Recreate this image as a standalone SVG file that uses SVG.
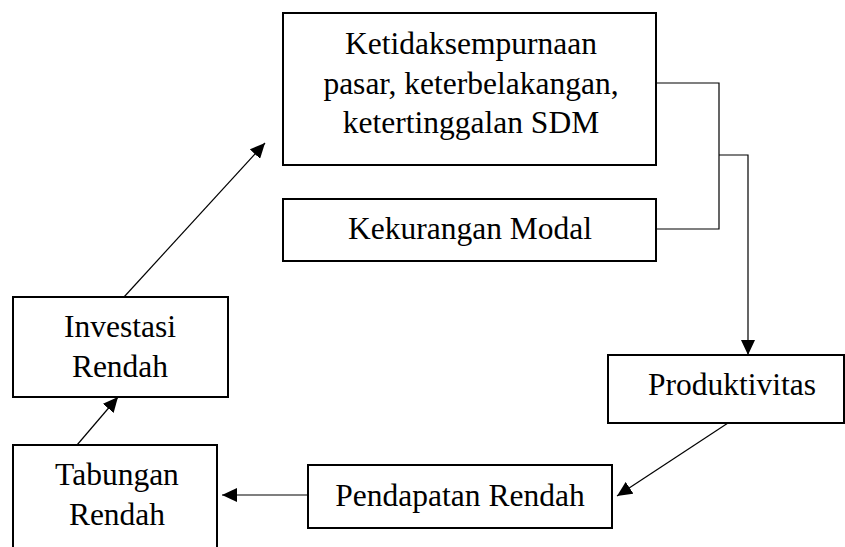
<svg xmlns="http://www.w3.org/2000/svg" width="845" height="547" viewBox="0 0 845 547">
<style>
.box{fill:#fff;stroke:#000;stroke-width:2}
.t{font-family:'Liberation Serif','Times New Roman',serif;font-size:31.5px;fill:#000;text-anchor:middle}
.c{fill:none;stroke:#000;stroke-width:1.2}
</style>
<defs>
<marker id="ah" markerUnits="userSpaceOnUse" markerWidth="16" markerHeight="14" refX="15" refY="7" orient="auto">
<path d="M0,0 L15,7 L0,14 Z" fill="#000"/>
</marker>
</defs>
<rect width="845" height="547" fill="#fff"/>
<g id="connectors">
<polyline class="c" points="656,83 719,83 719,229 656,229"/>
<polyline class="c" points="719,155 748,155 748,355" marker-end="url(#ah)"/>
<line class="c" x1="728" y1="423" x2="617" y2="496" marker-end="url(#ah)"/>
<line class="c" x1="308" y1="495" x2="222" y2="495" marker-end="url(#ah)"/>
<line class="c" x1="77" y1="445" x2="118" y2="397" marker-end="url(#ah)"/>
<line class="c" x1="124" y1="297" x2="265" y2="143" marker-end="url(#ah)"/>
</g>
<g id="ketidaksempurnaan">
<rect class="box" x="283" y="13" width="373" height="152"/>
<text class="t" x="471" y="54">Ketidaksempurnaan</text>
<text class="t" x="471" y="94">pasar, keterbelakangan,</text>
<text class="t" x="471" y="133">ketertinggalan SDM</text>
</g>
<g id="kekurangan-modal">
<rect class="box" x="283" y="199" width="373" height="62"/>
<text class="t" x="470" y="239">Kekurangan Modal</text>
</g>
<g id="produktivitas">
<rect class="box" x="608" y="355" width="236" height="68"/>
<text class="t" x="732" y="395">Produktivitas</text>
</g>
<g id="pendapatan-rendah">
<rect class="box" x="308" y="465" width="304" height="63"/>
<text class="t" x="460" y="506">Pendapatan Rendah</text>
</g>
<g id="tabungan-rendah">
<rect class="box" x="13" y="445" width="204" height="110"/>
<text class="t" x="117" y="485">Tabungan</text>
<text class="t" x="117" y="525">Rendah</text>
</g>
<g id="investasi-rendah">
<rect class="box" x="13" y="297" width="215" height="100"/>
<text class="t" x="120" y="337">Investasi</text>
<text class="t" x="120" y="377">Rendah</text>
</g>
</svg>
